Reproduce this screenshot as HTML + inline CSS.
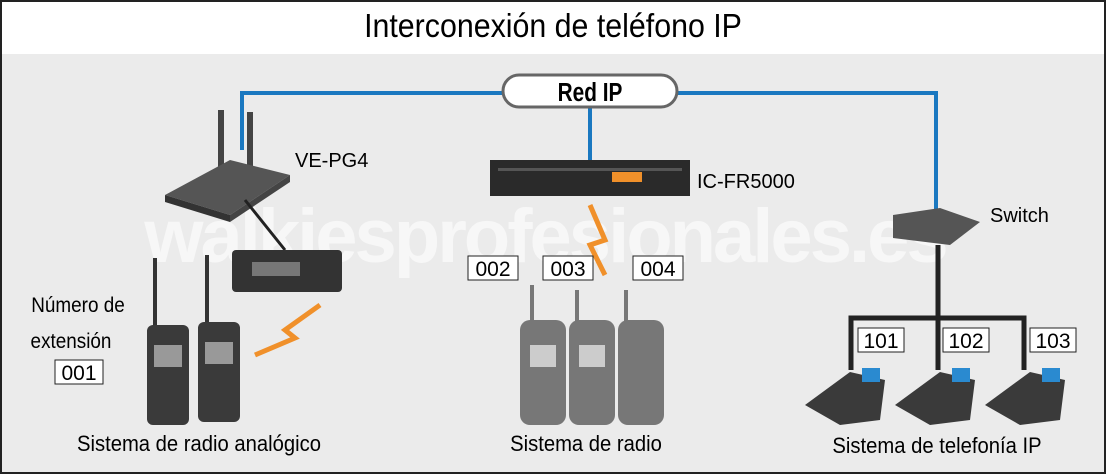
<!DOCTYPE html>
<html><head><meta charset="utf-8"><style>
html,body{margin:0;padding:0;background:#fff}
svg{display:block}
text{font-family:"Liberation Sans",sans-serif}
</style></head><body>
<svg width="1106" height="474" viewBox="0 0 1106 474" xmlns="http://www.w3.org/2000/svg">
<rect x="0" y="0" width="1106" height="474" fill="#ebebeb"/>
<rect x="0" y="0" width="1106" height="54" fill="#fff"/>
<rect x="1" y="1" width="1104" height="472" fill="none" stroke="#222" stroke-width="2"/>
<text x="553" y="37" font-size="33" text-anchor="middle" transform="translate(553 0) scale(0.92 1) translate(-553 0)">Interconexión de teléfono IP</text>

<!-- watermark -->
<text x="545" y="262" font-size="76" font-weight="bold" fill="#fff" fill-opacity="0.6" text-anchor="middle" letter-spacing="-3">walkiesprofesionales.es</text>

<!-- blue network lines -->
<g stroke="#1a78c0" stroke-width="4" fill="none">
<path d="M242 150 V93 H505"/>
<path d="M675 93 H936 V212"/>
<path d="M590 108 V162"/>
</g>
<rect x="503" y="75" width="174" height="32" rx="16" fill="#fff" stroke="#666" stroke-width="3"/>
<text x="590" y="101" font-size="26" font-weight="bold" text-anchor="middle" transform="translate(590 0) scale(0.8 1) translate(-590 0)">Red IP</text>

<!-- VE-PG4 router -->
<rect x="218" y="110" width="6" height="60" fill="#444"/>
<rect x="247" y="112" width="6" height="58" fill="#444"/>
<polygon points="165,195 230,160 290,175 230,215" fill="#555"/>
<polygon points="165,195 230,215 230,222 165,202" fill="#333"/>
<polygon points="230,215 290,175 290,182 230,222" fill="#444"/>
<line x1="245" y1="200" x2="285" y2="250" stroke="#222" stroke-width="3"/>
<text x="295" y="167" font-size="20">VE-PG4</text>
<!-- mobile radio -->
<rect x="232" y="250" width="110" height="42" rx="4" fill="#333"/>
<rect x="252" y="262" width="48" height="14" fill="#777"/>
<!-- handhelds -->
<rect x="153" y="258" width="4" height="70" fill="#333"/>
<rect x="205" y="255" width="4" height="70" fill="#333"/>
<rect x="147" y="325" width="42" height="100" rx="6" fill="#3a3a3a"/>
<rect x="198" y="322" width="42" height="100" rx="6" fill="#3a3a3a"/>
<rect x="154" y="345" width="28" height="22" fill="#999"/>
<rect x="205" y="342" width="28" height="22" fill="#999"/>
<path d="M320 305 L285 330 L295 338 L255 355" stroke="#f0902a" stroke-width="5" fill="none"/>
<text x="78" y="312" font-size="21" text-anchor="middle" transform="translate(78 0) scale(0.9 1) translate(-78 0)">Número de</text>
<text x="71" y="348" font-size="21" text-anchor="middle" transform="translate(71 0) scale(0.9 1) translate(-71 0)">extensión</text>
<rect x="55" y="360" width="48" height="24" fill="#fff" stroke="#222"/>
<text x="79" y="380" font-size="21" text-anchor="middle">001</text>
<text x="199" y="451" font-size="22" text-anchor="middle" transform="translate(199 0) scale(0.92 1) translate(-199 0)">Sistema de radio analógico</text>

<!-- IC-FR5000 -->
<rect x="490" y="160" width="200" height="36" fill="#2a2a2a"/>
<rect x="498" y="168" width="184" height="3" fill="#555"/>
<rect x="612" y="172" width="30" height="10" fill="#f0902a"/>
<text x="697" y="188" font-size="20">IC-FR5000</text>
<path d="M590 205 L605 240 L590 245 L605 275" stroke="#f0902a" stroke-width="5" fill="none"/>
<g fill="#fff" stroke="#222">
<rect x="468" y="256" width="50" height="24"/>
<rect x="543" y="256" width="50" height="24"/>
<rect x="633" y="256" width="50" height="24"/>
</g>
<g font-size="21" text-anchor="middle">
<text x="493" y="276">002</text><text x="568" y="276">003</text><text x="658" y="276">004</text>
</g>
<g fill="#777">
<rect x="530" y="285" width="4" height="40"/>
<rect x="575" y="290" width="4" height="35"/>
<rect x="624" y="290" width="4" height="35"/>
<rect x="520" y="320" width="46" height="105" rx="10"/>
<rect x="569" y="320" width="46" height="105" rx="10"/>
<rect x="618" y="320" width="46" height="105" rx="10"/>
</g>
<rect x="530" y="345" width="26" height="22" fill="#ccc"/>
<rect x="579" y="345" width="26" height="22" fill="#ccc"/>
<text x="586" y="451" font-size="22" text-anchor="middle" transform="translate(586 0) scale(0.92 1) translate(-586 0)">Sistema de radio</text>

<!-- Switch -->
<polygon points="893,215 940,208 980,222 950,245 893,238" fill="#555"/>
<text x="990" y="222" font-size="20">Switch</text>
<g stroke="#222" stroke-width="5" fill="none">
<path d="M938 245 V318"/>
<path d="M851 370 V318 H1024 V370"/>
<path d="M938 318 V370"/>
</g>
<g fill="#fff" stroke="#222">
<rect x="858" y="328" width="46" height="24"/>
<rect x="943" y="328" width="46" height="24"/>
<rect x="1030" y="328" width="46" height="24"/>
</g>
<g font-size="21" text-anchor="middle">
<text x="881" y="348">101</text><text x="966" y="348">102</text><text x="1053" y="348">103</text>
</g>
<g fill="#3a3a3a">
<polygon points="805,405 850,372 885,380 880,420 840,425"/>
<polygon points="895,405 940,372 975,380 970,420 930,425"/>
<polygon points="985,405 1030,372 1065,380 1060,420 1020,425"/>
</g>
<g fill="#2a8ad0">
<rect x="862" y="368" width="18" height="14"/>
<rect x="952" y="368" width="18" height="14"/>
<rect x="1042" y="368" width="18" height="14"/>
</g>
<text x="937" y="453" font-size="22" text-anchor="middle" transform="translate(937 0) scale(0.92 1) translate(-937 0)">Sistema de telefonía IP</text>
</svg>
</body></html>
